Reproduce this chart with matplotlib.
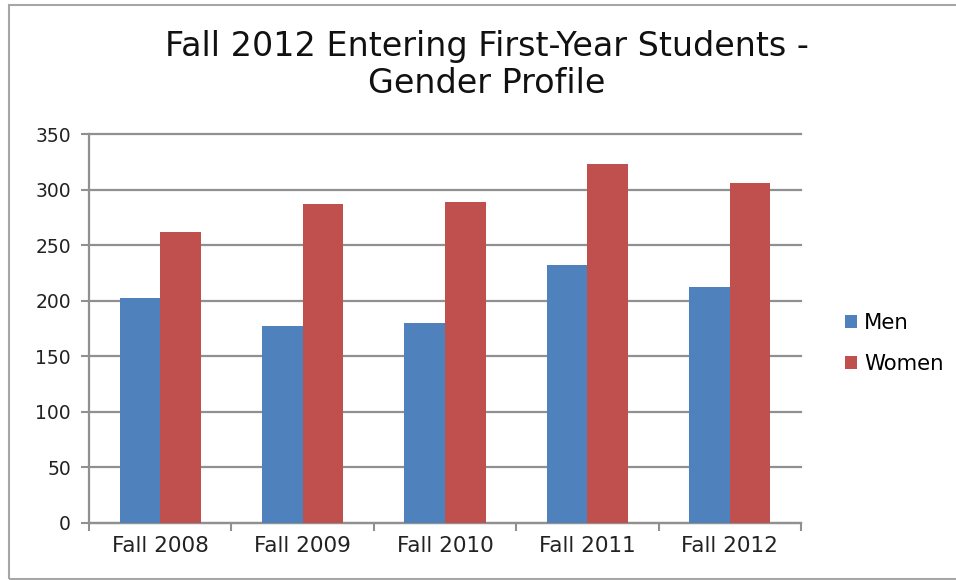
import matplotlib
matplotlib.use("Agg")
import matplotlib.pyplot as plt
import numpy as np
from matplotlib.patches import Rectangle

categories = ["Fall 2008", "Fall 2009", "Fall 2010", "Fall 2011", "Fall 2012"]
men = [202, 177, 180, 232, 212]
women = [262, 287, 289, 323, 306]
yticks = [0, 50, 100, 150, 200, 250, 300, 350]

plt.rcParams['font.family'] = ['DejaVu Sans']

fig = plt.figure(figsize=(9.56, 5.80), dpi=100)
ax = fig.add_axes([89/956, 1-523/580, (801-89)/956, (523-134)/580])

x = np.arange(len(categories))
w = 1/3.5
blue = "#4F81BD"
red = "#C0504D"
ax.bar(x - w/2, men, width=w, color=blue, label="Men", zorder=3)
ax.bar(x + w/2, women, width=w, color=red, label="Women", zorder=3)

ax.set_xlim(-0.5, len(categories) - 0.5)
ax.set_ylim(0, 350)
ax.set_yticks(yticks)
ax.set_yticklabels([str(v) for v in yticks], fontsize=13.5, color="#222222")
ax.yaxis.grid(True, color="#909090", linewidth=1.6, zorder=0)
ax.set_axisbelow(True)
for gl in ax.yaxis.get_gridlines():
    gl.set_clip_on(False)

ax.set_xticks(np.arange(-0.5, len(categories), 1.0))
ax.set_xticklabels([])
ax.set_xticks(x, minor=True)
ax.set_xticklabels(categories, minor=True, fontsize=15.5, color="#222222")
ax.tick_params(axis='x', which='minor', length=0, pad=9)
ax.tick_params(axis='x', which='major', length=6, width=1.5, color="#909090", direction='out')
ax.tick_params(axis='y', length=6, width=1.5, color="#909090", direction='out', pad=7)

for s in ["top", "right"]:
    ax.spines[s].set_visible(False)
for s in ["left", "bottom"]:
    ax.spines[s].set_color("#909090")
    ax.spines[s].set_linewidth(1.6)

fig.text(487/956, 1-65/580, "Fall 2012 Entering First-Year Students -\nGender Profile",
         ha="center", va="center", fontsize=24, color="#111111", linespacing=1.15)

leg = ax.legend(loc="center left", bbox_to_anchor=(1.035, 0.462), frameon=False,
                fontsize=15.3, handlelength=0.55, handleheight=0.55, handletextpad=0.35,
                labelspacing=1.0)

fig.patches.append(Rectangle((9/956, 1-579/580), 1.0, (579-5)/580, transform=fig.transFigure,
                             fill=False, edgecolor="#a6a6a6", linewidth=1.5))

fig.savefig("out.png", dpi=100)
